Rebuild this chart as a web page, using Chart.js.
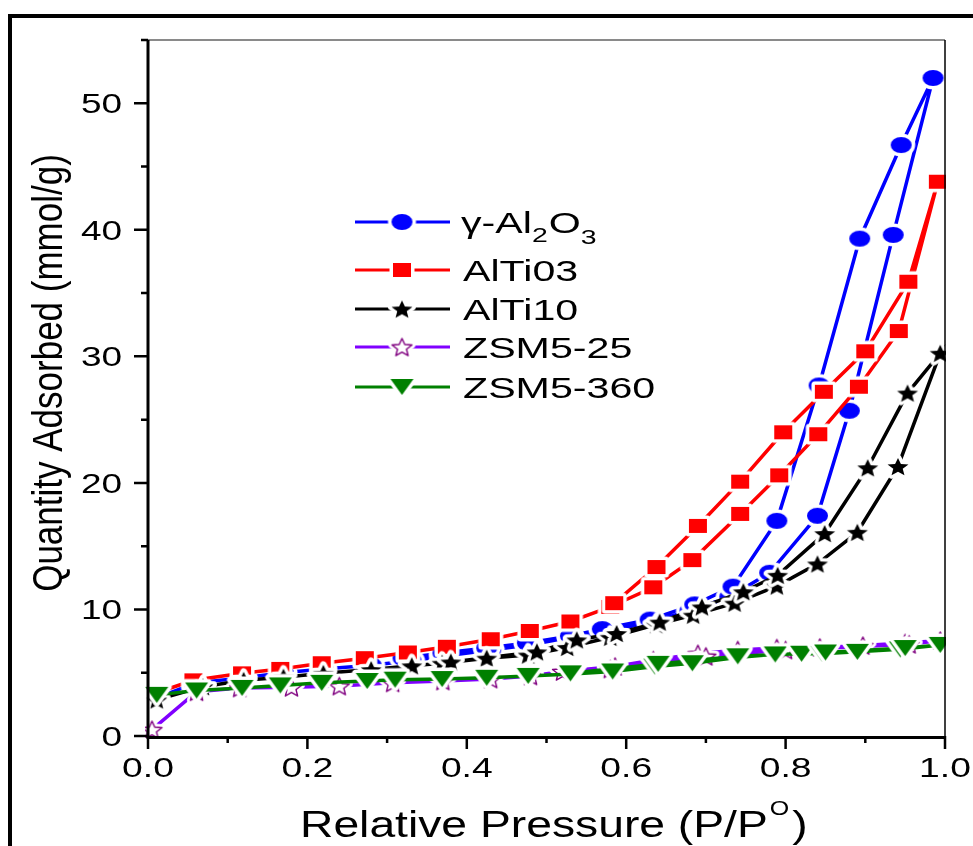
<!DOCTYPE html>
<html>
<head>
<meta charset="utf-8">
<script src="https://cdn.jsdelivr.net/npm/chart.js@4.4.1/dist/chart.umd.min.js"></script>
<style>
  body { margin: 0; background: #fff; }
  #wrap { width: 973px; height: 846px; }
</style>
</head>
<body>
<div id="wrap"><canvas id="iso" width="973" height="846"></canvas></div>
<script>
// gamma-Al2O3 : adsorption then desorption branch
var alAdsP = [0.01, 0.06, 0.12, 0.17, 0.22, 0.28, 0.33, 0.37, 0.43, 0.48, 0.53, 0.58, 0.63, 0.68, 0.73, 0.78, 0.84, 0.88, 0.935, 0.985];
var alAdsQ = [3.0, 4.2, 4.6, 5.0, 5.3, 5.6, 5.95, 6.3, 6.8, 7.2, 7.8, 8.3, 9.0, 9.9, 11.0, 12.9, 17.4, 25.7, 39.6, 52.0];
var alDesP = [0.945, 0.893, 0.842, 0.789, 0.734, 0.686, 0.63, 0.57, 0.53, 0.476, 0.425, 0.37, 0.32];
var alDesQ = [46.7, 39.3, 27.7, 17.0, 11.8, 10.4, 9.2, 8.45, 7.9, 7.35, 6.95, 6.55, 6.15];

// AlTi03
var at3AdsP = [0.01, 0.057, 0.118, 0.166, 0.218, 0.272, 0.326, 0.375, 0.43, 0.479, 0.53, 0.58, 0.634, 0.683, 0.743, 0.792, 0.841, 0.892, 0.942, 0.991];
var at3AdsQ = [3.4, 4.4, 4.95, 5.3, 5.75, 6.15, 6.6, 7.05, 7.65, 8.3, 9.05, 10.2, 11.75, 13.9, 17.55, 20.6, 23.85, 27.6, 32.0, 43.8];
var at3DesP = [0.954, 0.90, 0.848, 0.797, 0.743, 0.69, 0.638, 0.585];
var at3DesQ = [35.9, 30.4, 27.2, 24.0, 20.1, 16.6, 13.35, 10.5];

// AlTi10
var at10AdsP = [0.011, 0.069, 0.12, 0.17, 0.22, 0.28, 0.331, 0.369, 0.425, 0.477, 0.526, 0.58, 0.638, 0.684, 0.736, 0.789, 0.84, 0.89, 0.941, 0.994];
var at10AdsQ = [2.85, 3.9, 4.4, 4.65, 4.95, 5.25, 5.55, 5.75, 6.15, 6.4, 7.0, 7.8, 8.8, 9.55, 10.5, 11.85, 13.6, 16.1, 21.3, 30.25];
var at10DesP = [0.953, 0.903, 0.849, 0.79, 0.747, 0.695, 0.642, 0.588, 0.538, 0.488, 0.38];
var at10DesQ = [27.1, 21.2, 16.0, 12.7, 11.4, 10.2, 9.0, 8.1, 7.6, 6.65, 5.85];

// ZSM5-25
var z25AdsP = [0.005, 0.061, 0.115, 0.18, 0.24, 0.307, 0.37, 0.43, 0.48, 0.52, 0.586, 0.634, 0.69, 0.74, 0.789, 0.843, 0.897, 0.95, 0.994];
var z25AdsQ = [0.5, 3.5, 3.8, 3.85, 3.95, 4.2, 4.35, 4.5, 4.75, 5.1, 5.5, 6.0, 6.5, 6.8, 6.95, 7.0, 7.15, 7.35, 7.55];
var z25DesP = [0.955, 0.80, 0.70, 0.58];
var z25DesQ = [7.25, 6.8, 6.3, 5.3];

// ZSM5-360
var z360AdsP = [0.011, 0.061, 0.118, 0.166, 0.218, 0.275, 0.31, 0.369, 0.425, 0.477, 0.532, 0.583, 0.636, 0.683, 0.739, 0.787, 0.82, 0.846, 0.89, 0.944, 0.994];
var z360AdsQ = [3.25, 3.6, 3.8, 4.0, 4.2, 4.35, 4.45, 4.5, 4.6, 4.75, 4.9, 5.1, 5.5, 5.75, 6.2, 6.45, 6.5, 6.5, 6.65, 6.85, 7.2];
var z360DesP = [0.95, 0.85, 0.74, 0.64, 0.53];
var z360DesQ = [6.95, 6.6, 6.3, 5.7, 4.95];

var xMajor = [0, 0.2, 0.4, 0.6, 0.8, 1.0];
var xMinor = [0.1, 0.3, 0.5, 0.7, 0.9];
var yMajor = [0, 10, 20, 30, 40, 50];
var yMinor = [5, 15, 25, 35, 45, 55];

var FONT = '"Liberation Sans", Arial, Helvetica, sans-serif';

function loop(adsP, adsQ, desP, desQ) {
    var pts = [];
    for (var i = 0; i < adsP.length; i++) pts.push({x: adsP[i], y: adsQ[i]});
    for (var j = 0; j < desP.length; j++) pts.push({x: desP[j], y: desQ[j]});
    return pts;
}

// marker images with a white halo, like the origin plot
function marker(w, h, path, fill, stroke) {
    var pad = 5;
    var c = document.createElement('canvas');
    c.width = w + pad * 2; c.height = h + pad * 2;
    var ctx = c.getContext('2d');
    ctx.translate(c.width / 2, c.height / 2);
    path(ctx, w / 2, h / 2);
    ctx.lineJoin = 'round';
    ctx.strokeStyle = '#fff'; ctx.lineWidth = 7; ctx.stroke();
    ctx.fillStyle = fill; ctx.fill();
    if (stroke) { ctx.strokeStyle = stroke; ctx.lineWidth = 1.4; ctx.stroke(); }
    return c;
}
function ellipsePath(ctx, rx, ry) { ctx.beginPath(); ctx.ellipse(0, 0, rx, ry, 0, 0, Math.PI * 2); }
function rectPath(ctx, rx, ry) { ctx.beginPath(); ctx.rect(-rx, -ry, rx * 2, ry * 2); }
function starPath(ctx, rx, ry) {
    ctx.beginPath();
    for (var i = 0; i < 10; i++) {
        var a = -Math.PI / 2 + i * Math.PI / 5;
        var r = i % 2 ? 0.45 : 1;
        var px = Math.cos(a) * rx * r, py = Math.sin(a) * ry * r + ry * 0.1;
        if (i === 0) ctx.moveTo(px, py); else ctx.lineTo(px, py);
    }
    ctx.closePath();
}
function triPath(ctx, rx, ry) {
    ctx.beginPath(); ctx.moveTo(-rx, -ry); ctx.lineTo(rx, -ry); ctx.lineTo(0, ry); ctx.closePath();
}

var mkCircle = marker(21, 16, ellipsePath, '#0000ff');
var mkSquare = marker(18, 14, rectPath, '#ff0000');
var mkStar = marker(22, 19, starPath, '#000000');
var mkOpenStar = marker(21, 19, starPath, '#ffffff', '#800080');
var mkTri = marker(23, 16, triPath, '#008000');

var series = [
    {label: 'γ-Al2O3', color: '#0000ff', img: mkCircle, data: loop(alAdsP, alAdsQ, alDesP, alDesQ), order: 5},
    {label: 'AlTi03', color: '#ff0000', img: mkSquare, data: loop(at3AdsP, at3AdsQ, at3DesP, at3DesQ), order: 4},
    {label: 'AlTi10', color: '#000000', img: mkStar, data: loop(at10AdsP, at10AdsQ, at10DesP, at10DesQ), order: 3},
    {label: 'ZSM5-25', color: '#8000ff', img: mkOpenStar, data: loop(z25AdsP, z25AdsQ, z25DesP, z25DesQ), order: 2},
    {label: 'ZSM5-360', color: '#008000', img: mkTri, data: loop(z360AdsP, z360AdsQ, z360DesP, z360DesQ), order: 1}
];

function txt(ctx, str, x, y, size, sx, align) {
    ctx.save();
    ctx.font = size + 'px ' + FONT;
    ctx.translate(x, y);
    ctx.scale(sx, 1);
    ctx.textAlign = align || 'left';
    ctx.textBaseline = 'alphabetic';
    ctx.fillStyle = '#000';
    ctx.fillText(str, 0, 0);
    var w = ctx.measureText(str).width * sx;
    ctx.restore();
    return w;
}

var frame = {
    id: 'frame',
    beforeDraw: function(chart) {
        var ctx = chart.ctx;
        ctx.save();
        ctx.fillStyle = '#fff';
        ctx.fillRect(0, 0, chart.width, chart.height);
        ctx.restore();
    },
    afterDraw: function(chart) {
        var ctx = chart.ctx, a = chart.chartArea;
        var xs = chart.scales.x, ys = chart.scales.y;
        ctx.save();
        // outer figure border
        ctx.fillStyle = '#000';
        ctx.fillRect(8, 14, chart.width - 8, 4);
        ctx.fillRect(8, 14, 4, chart.height - 14);

        // top and right of the box
        ctx.strokeStyle = '#8a8a8a'; ctx.lineWidth = 2;
        ctx.beginPath(); ctx.moveTo(a.left, a.top); ctx.lineTo(a.right, a.top); ctx.stroke();
        ctx.strokeStyle = '#000'; ctx.lineWidth = 1.5;
        ctx.beginPath(); ctx.moveTo(a.right, a.top); ctx.lineTo(a.right, a.bottom); ctx.stroke();

        // axis lines
        ctx.lineWidth = 3;
        ctx.beginPath(); ctx.moveTo(a.left, a.top); ctx.lineTo(a.left, a.bottom + 1.5); ctx.lineTo(a.right, a.bottom + 1.5); ctx.stroke();

        ctx.lineWidth = 2.5;
        ctx.beginPath();
        yMajor.forEach(function(v) { var p = ys.getPixelForValue(v); ctx.moveTo(a.left, p); ctx.lineTo(a.left - 14, p); });
        yMinor.forEach(function(v) { var p = ys.getPixelForValue(v); ctx.moveTo(a.left, p); ctx.lineTo(a.left - 7, p); });
        xMajor.forEach(function(v) { var p = xs.getPixelForValue(v); ctx.moveTo(p, a.bottom); ctx.lineTo(p, a.bottom + 13); });
        xMinor.forEach(function(v) { var p = xs.getPixelForValue(v); ctx.moveTo(p, a.bottom); ctx.lineTo(p, a.bottom + 7); });
        ctx.stroke();

        yMajor.forEach(function(v) { txt(ctx, String(v), a.left - 26, ys.getPixelForValue(v) + 10, 28, 1.32, 'right'); });
        xMajor.forEach(function(v) { txt(ctx, v.toFixed(1), xs.getPixelForValue(v), 777, 27, 1.38, 'center'); });

        // x title with superscript
        var x0 = 300;
        x0 += txt(ctx, 'Relative Pressure (P/P', x0, 837, 37, 1.25);
        x0 += txt(ctx, 'O', x0 + 2, 815, 20, 1.25) + 2;
        txt(ctx, ')', x0 + 3, 837, 37, 1.25);

        // y title
        ctx.save();
        ctx.translate(62, 373);
        ctx.rotate(-Math.PI / 2);
        ctx.scale(1, 1.2);
        ctx.font = '35px ' + FONT;
        ctx.textAlign = 'center';
        ctx.fillStyle = '#000';
        ctx.fillText('Quantity Adsorbed (mmol/g)', 0, 0);
        ctx.restore();

        // legend
        var rows = [222, 270, 309, 347, 387];
        series.forEach(function(s, i) {
            var cy = rows[i];
            ctx.strokeStyle = s.color; ctx.lineWidth = 3;
            ctx.beginPath(); ctx.moveTo(355, cy); ctx.lineTo(450, cy); ctx.stroke();
            ctx.drawImage(s.img, 402 - s.img.width / 2, cy - s.img.height / 2);
            var base = cy + 11;
            if (i === 0) {
                var lx = 461;
                lx += txt(ctx, 'γ-Al', lx, base, 29, 1.42);
                lx += txt(ctx, '2', lx, base + 9, 20, 1.42);
                lx += txt(ctx, 'O', lx + 1, base, 29, 1.42) + 1;
                txt(ctx, '3', lx, base + 11, 20, 1.42);
            } else {
                txt(ctx, s.label, 463, base, 29, 1.42);
            }
        });
        ctx.restore();
    }
};

var datasets = series.map(function(s) {
    return {
        label: s.label,
        data: s.data,
        showLine: true,
        borderColor: s.color,
        borderWidth: 3.5,
        pointStyle: s.img,
        pointRadius: 8,
        pointHoverRadius: 8,
        order: s.order,
        clip: {left: 3, right: 1, top: 2, bottom: 2}
    };
});

new Chart(document.getElementById('iso').getContext('2d'), {
    type: 'scatter',
    data: {datasets: datasets},
    options: {
        responsive: false,
        devicePixelRatio: 1,
        animation: false,
        layout: {padding: {left: 148, top: 40, right: 28, bottom: 110}},
        plugins: {legend: {display: false}, tooltip: {enabled: false}},
        scales: {
            x: {type: 'linear', min: 0, max: 1, display: false},
            y: {type: 'linear', min: 0, max: 55, display: false}
        }
    },
    plugins: [frame]
});
</script>
</body>
</html>
